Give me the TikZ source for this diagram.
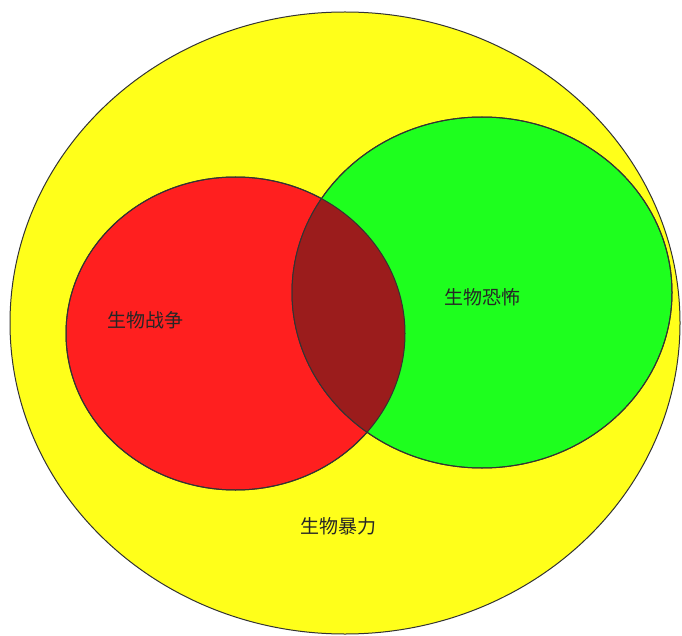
\documentclass[tikz,border=0pt]{standalone}
\usepackage{fontspec}
\newfontfamily\cjk{Noto Sans CJK SC}
\definecolor{vyellow}{HTML}{FFFF1A}
\definecolor{vred}{HTML}{FF1F1F}
\definecolor{vgreen}{HTML}{1EFF1E}
\definecolor{vdark}{HTML}{9B1C1C}
\definecolor{vline}{HTML}{333333}
\begin{document}
\begin{tikzpicture}[x=1pt,y=-1pt,
  setline/.style={draw=vline,line width=1pt},
  lbl/.style={font=\cjk\fontsize{19}{22}\selectfont,text=black!85}]
\useasboundingbox (0,0) rectangle (682,636);
\fill[vyellow,setline] (345,323) ellipse [x radius=335,y radius=311];
\fill[vred,setline] (235.5,333.5) ellipse [x radius=169.5,y radius=156.5];
\fill[vgreen,setline] (482,292.5) ellipse [x radius=190,y radius=175.5];
\begin{scope}
  \clip (235.5,333.5) ellipse [x radius=169.5,y radius=156.5];
  \fill[vdark] (482,292.5) ellipse [x radius=190,y radius=175.5];
\end{scope}
\draw[setline] (235.5,333.5) ellipse [x radius=169.5,y radius=156.5];
\draw[setline] (482,292.5) ellipse [x radius=190,y radius=175.5];
\node[lbl] (war) at (145,320) {生物战争};
\node[lbl] (terror) at (482,297) {生物恐怖};
\node[lbl] (violence) at (338,526) {生物暴力};
\end{tikzpicture}
\end{document}
